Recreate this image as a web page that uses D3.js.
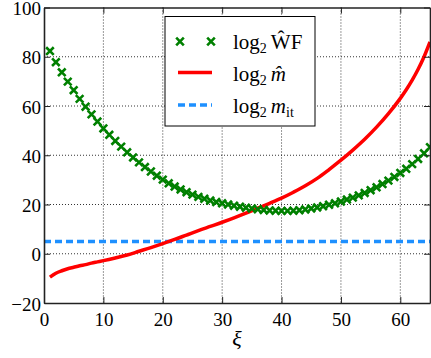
<!DOCTYPE html>
<html>
<head>
<meta charset="utf-8">
<script src="https://cdn.jsdelivr.net/npm/d3@7"></script>
<style>
  html, body { margin: 0; padding: 0; background: #fff; }
  svg, svg text { font-family: "Liberation Serif", "Times New Roman", Times, "DejaVu Serif", serif; }
</style>
</head>
<body>
<div id="chart"></div>
<script>
// data
const wfXi = [1,2,3,4,5,6,7,8,9,10,11,12,13,14,15,16,17,18,19,20,21,22,23,24,25,26,27,28,29,30,
              31,32,33,34,35,36,37,38,39,40,41,42,43,44,45,46,47,48,49,50,51,52,53,54,55,56,57,58,59,60,
              61,62,63,64,65];
const wfVal = [82.3,77.8,73.7,69.9,66.4,62.9,59.7,56.6,53.7,50.9,
               48.3,45.8,43.5,41.2,39.1,37.1,35.2,33.4,31.7,30.1,
               28.6,27.3,26.1,25.0,24.0,23.1,22.3,21.6,21.0,20.5,
               20.0,19.5,19.1,18.7,18.4,18.1,17.8,17.6,17.5,17.4,
               17.4,17.5,17.7,18.0,18.4,18.8,19.3,19.9,20.5,21.2,
               22.0,22.8,23.7,24.7,25.8,27.0,28.3,29.7,31.2,32.8,
               34.5,36.4,38.5,40.8,43.3];
const mXi = [1,2,3,4,5,6,7,8,9,10,12,14,16,18,20,22,24,26,28,30,32,34,36,38,40,42,44,46,48,50,52,54,56,58,60,61,62,63,64,65];
const mVal = [-9.5,-7.9,-6.9,-6.1,-5.5,-4.9,-4.4,-3.8,-3.3,-2.8,-1.7,-0.5,1.0,2.5,4.1,5.8,7.6,9.4,11.1,12.8,
              14.6,16.5,18.5,20.5,22.6,25.0,27.6,30.6,34.2,38.0,42.1,46.5,51.4,56.9,63.1,66.6,70.5,74.9,80.0,86.0];
const mitXi = [0, 65];
const mitVal = [5, 5];
const xTicks = [0,10,20,30,40,50,60];
const yTicks = [-20,0,20,40,60,80,100];

const W = 431, H = 358;
const margin = {top: 7.5, right: 1, bottom: 55, left: 44};
const FONT = '"Liberation Serif", "Times New Roman", Times, "DejaVu Serif", serif';

const svg = d3.select("#chart").append("svg")
    .attr("width", W)
    .attr("height", H);

const x = d3.scaleLinear().domain([0, 65]).range([margin.left, W - margin.right]);
const y = d3.scaleLinear().domain([-20, 100]).range([H - margin.bottom, margin.top]);

svg.append("defs").append("clipPath").attr("id", "clip")
    .append("rect")
    .attr("x", x(0)).attr("y", y(100))
    .attr("width", x(65) - x(0)).attr("height", y(-20) - y(100));

// dotted grid
const grid = svg.append("g");
grid.selectAll(".gx").data(xTicks.slice(1)).enter().append("line")
    .attr("x1", d => x(d)).attr("x2", d => x(d))
    .attr("y1", y(100)).attr("y2", y(-20))
    .attr("stroke", "#000").attr("stroke-width", 0.8).attr("stroke-dasharray", "1,2");
grid.selectAll(".gy").data(yTicks.slice(1, -1)).enter().append("line")
    .attr("x1", x(0)).attr("x2", x(65))
    .attr("y1", d => y(d)).attr("y2", d => y(d))
    .attr("stroke", "#000").attr("stroke-width", 0.8).attr("stroke-dasharray", "1,2");

const plot = svg.append("g").attr("clip-path", "url(#clip)");

// log2 m_it
const lineMit = d3.line().x((d, i) => x(mitXi[i])).y(d => y(d));
plot.append("path")
    .attr("d", lineMit(mitVal))
    .attr("fill", "none")
    .attr("stroke", "#1e90ff")
    .attr("stroke-width", 3.5)
    .attr("stroke-dasharray", "7,4");

// log2 m hat
const lineM = d3.line().x((d, i) => x(mXi[i])).y(d => y(d)).curve(d3.curveMonotoneX);
plot.append("path")
    .attr("d", lineM(mVal))
    .attr("fill", "none")
    .attr("stroke", "#ff0000")
    .attr("stroke-width", 3.5);

// log2 WF markers
function cross(g, s) {
  g.append("path")
    .attr("d", `M${-s},${-s}L${s},${s}M${-s},${s}L${s},${-s}`)
    .attr("stroke", "#008000")
    .attr("stroke-width", 2.6)
    .attr("fill", "none");
}
plot.selectAll(".wf").data(wfVal).enter().append("g")
    .attr("transform", (d, i) => `translate(${x(wfXi[i])},${y(d)})`)
    .each(function() { cross(d3.select(this), 3.8); });

// axes (ticks inside, on all four sides)
const axB = svg.append("g").attr("transform", `translate(0,${y(-20)})`)
    .call(d3.axisBottom(x).tickValues(xTicks).tickSizeInner(-6).tickSizeOuter(0).tickPadding(10));
const axT = svg.append("g").attr("transform", `translate(0,${y(100)})`)
    .call(d3.axisTop(x).tickValues(xTicks).tickSizeInner(-6).tickSizeOuter(0).tickFormat(""));
const axL = svg.append("g").attr("transform", `translate(${x(0)},0)`)
    .call(d3.axisLeft(y).tickValues(yTicks).tickSizeInner(-6).tickSizeOuter(0).tickPadding(3)
      .tickFormat(d => d < 0 ? "\u2212" + Math.abs(d) : d));
const axR = svg.append("g").attr("transform", `translate(${x(65)},0)`)
    .call(d3.axisRight(y).tickValues(yTicks).tickSizeInner(-6).tickSizeOuter(0).tickFormat(""));

[axB, axT, axL, axR].forEach(a => {
  a.attr("font-family", null).attr("font-size", null);
  a.select(".domain").attr("stroke", "#222").attr("stroke-width", 1.6);
  a.selectAll(".tick line").attr("stroke", "#222").attr("stroke-width", 1);
  a.selectAll("text")
    .style("font-family", FONT)
    .style("font-size", "19px")
    .attr("fill", "#000");
});
axL.selectAll("text").attr("dy", "0.38em");

svg.append("text")
    .attr("x", (x(0) + x(65)) / 2)
    .attr("y", 346)
    .attr("text-anchor", "middle")
    .style("font-family", FONT)
    .style("font-size", "22px")
    .attr("font-style", "italic")
    .text("\u03be");

// legend
const leg = svg.append("g");
leg.append("rect")
    .attr("x", 165).attr("y", 16.5)
    .attr("width", 150).attr("height", 109.5)
    .attr("fill", "#fff")
    .attr("stroke", "#000")
    .attr("stroke-width", 1);

const lx1 = 180, lx2 = 211, tx = 233;
cross(leg.append("g").attr("transform", `translate(${lx1},41.5)`), 3.8);
cross(leg.append("g").attr("transform", `translate(${lx2},41.5)`), 3.8);
leg.append("line").attr("x1", lx1 - 2).attr("x2", lx2 + 1).attr("y1", 72.5).attr("y2", 72.5)
    .attr("stroke", "#ff0000").attr("stroke-width", 3.5);
leg.append("line").attr("x1", lx1 - 2).attr("x2", lx2 + 1).attr("y1", 105).attr("y2", 105)
    .attr("stroke", "#1e90ff").attr("stroke-width", 3.5).attr("stroke-dasharray", "7,4");

function legLabel(yy, parts) {
  const t = leg.append("text").attr("x", tx).attr("y", yy)
      .style("font-family", FONT).style("font-size", "21px");
  parts.forEach(p => {
    const s = t.append("tspan").text(p.t);
    if (p.italic) s.attr("font-style", "italic");
    if (p.sub) s.style("font-size", "14px");
    if (p.dy) s.attr("dy", p.dy);
    if (p.dx) s.attr("dx", p.dx);
  });
}
legLabel(49, [{t: "log"}, {t: "2", sub: true, dy: 4}, {t: "\u0174F", dy: -4, dx: 4}]);
legLabel(81, [{t: "log"}, {t: "2", sub: true, dy: 4}, {t: "m\u0302", italic: true, dy: -4, dx: 4}]);
legLabel(113, [{t: "log"}, {t: "2", sub: true, dy: 4}, {t: "m", italic: true, dy: -4, dx: 4}, {t: "it", sub: true, dy: 4}]);
</script>
</body>
</html>
